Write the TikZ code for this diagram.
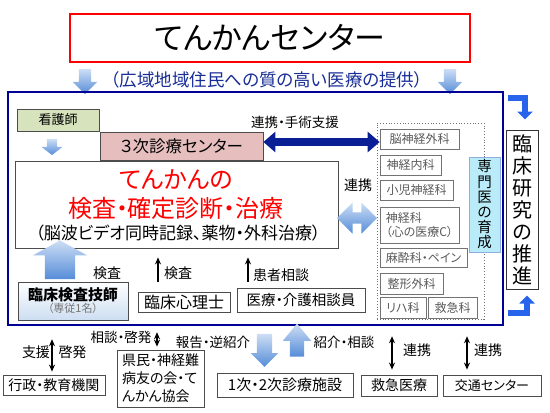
\documentclass[tikz,border=0pt]{standalone}
\usepackage{fontspec}
\setmainfont{Noto Sans CJK JP}[RawFeature=+palt]
\usetikzlibrary{positioning,shapes.arrows,arrows.meta}

\definecolor{frameblue}{RGB}{0,0,150}
\definecolor{navyarrow}{RGB}{10,30,150}
\definecolor{subblue}{RGB}{25,45,150}
\definecolor{skyA}{RGB}{205,222,245}
\definecolor{skyB}{RGB}{85,140,215}
\definecolor{nurse}{RGB}{214,227,188}
\definecolor{pinkbox}{RGB}{230,190,190}
\definecolor{cyanbox}{RGB}{185,235,248}
\definecolor{labblue}{RGB}{205,222,242}
\definecolor{bentblue}{RGB}{40,100,235}

\newcommand{\jfs}[2]{\fontsize{#1}{#2}\selectfont}

\begin{document}
\begin{tikzpicture}[x=1pt, y=-1pt,
  box/.style={draw=black!70, line width=0.8pt, inner sep=1pt, align=center},
  dept/.style={draw=black!55, line width=0.7pt, inner sep=1pt, text=black!65,
               font=\jfs{12}{14.5}, minimum height=20pt, align=left},
  label/.style={inner sep=0pt, font=\jfs{14}{16}},
  blockarrow/.style={single arrow, draw=none, top color=skyA, bottom color=skyB},
  thinup/.style={-{Stealth[length=7pt,width=6pt]}, line width=1.3pt},
  thindbl/.style={{Stealth[length=7pt,width=6pt]}-{Stealth[length=7pt,width=6pt]}, line width=1.3pt},
  darkdbl/.style={navyarrow, line width=8pt,
                  {Triangle[length=12pt,width=20pt]}-{Triangle[length=12pt,width=20pt]}},
  bent/.style={draw=bentblue, line width=6pt, -{Triangle[length=8pt,width=15pt]}}
]
\useasboundingbox (0,0) rectangle (550,413);

% title and goal
\node[draw=red, line width=2.5pt, minimum width=400pt, minimum height=48pt,
      font=\jfs{31}{31}] (title) at (270,38) {てんかんセンター};
\node[text=subblue, inner sep=0pt, font=\jfs{17.5}{18}] (goal) at (267,80) {（広域地域住民への質の高い医療の提供）};
\node[blockarrow, shape border rotate=270, inner sep=6pt, minimum height=25pt,
      single arrow head extend=6pt] (arrL) at (85,78.5) {};
\node[blockarrow, shape border rotate=270, inner sep=6pt, minimum height=25pt,
      single arrow head extend=6pt] (arrR) at (450,78.5) {};

% frame and clinical research
\node[draw=frameblue, line width=2.5pt, minimum width=495pt, minimum height=233pt,
      inner sep=0pt] (frame) at (255.5,208.5) {};
\node[box, draw=black!80, line width=1pt, minimum width=32pt, minimum height=159pt,
      font=\jfs{20}{22}] (research) at (522,209.5) {臨\\床\\研\\究\\の\\推\\進};
\draw[bent] ([xshift=4pt,yshift=-7pt]frame.north east) -| ([xshift=3pt,yshift=10pt]research.north);
\draw[bent] ([xshift=4pt,yshift=13pt]frame.south east) -| ([xshift=5pt,yshift=-6pt]research.south);

% upper part
\node[box, fill=nurse, minimum width=82pt, minimum height=22pt, font=\jfs{13}{14}] (nurse) at (58,120) {看護師};
\node[blockarrow, shape border rotate=270, inner sep=5pt, minimum height=16pt,
      single arrow head extend=5.5pt, single arrow tip angle=105] (nurseArr) at (52,145) {};
\node[box, fill=pinkbox, minimum width=163pt, minimum height=28pt, font=\jfs{16.5}{17}] (tertiary) at (181.5,146) {３次診療センター};
\node[box, minimum width=323pt, minimum height=87pt] (core) at (176.5,204.5) {};
\node[text=red, inner sep=0pt, font=\jfs{24}{24}] (coreA) at (176,179) {てんかんの};
\node[text=red, inner sep=0pt, font=\jfs{24}{24}] (coreB) at (176,208) {検査・確定診断・治療};
\node[inner sep=0pt, font=\jfs{17}{17}] (coreC) at (178,233) {（脳波ビデオ同時記録、薬物・外科治療）};

% departments
\node[draw=black!55, dotted, line width=0.8pt, minimum width=107pt, minimum height=196pt] (depts) at (430.5,221) {};
\node[dept, minimum width=79pt] (ns1) at (419.5,139) {脳神経外科};
\node[dept, minimum width=61pt] (ns2) at (410.5,165) {神経内科};
\node[dept, minimum width=73pt] (ns3) at (416.5,190) {小児神経科};
\node[dept, minimum width=79pt, minimum height=36pt] (ns4) at (419.5,225) {神経科\\（心の医療C）};
\node[dept, minimum width=87pt, minimum height=19pt] (ns5) at (423.5,258) {麻酔科・ペイン};
\node[dept, minimum width=63pt, minimum height=21pt] (ns6) at (411.5,283.5) {整形外科};
\node[dept, minimum width=46pt, minimum height=21pt] (ns7) at (403,307.5) {リハ科};
\node[dept, minimum width=49pt, minimum height=21pt] (ns8) at (452.5,307.5) {救急科};
\node[box, draw=cyan!50!blue!45, fill=cyanbox, minimum width=31pt, minimum height=95pt,
      font=\jfs{14.5}{15.2}] (trainee) at (484.5,204.5) {専\\門\\医\\の\\育\\成};

\node[label, font=\jfs{13.5}{14}] (surgLbl) at (295,122) {連携・手術支援};
\draw[darkdbl] ([yshift=4pt]tertiary.east) -- ([yshift=4pt]tertiary.east -| ns1.west);
\node[label] (linkLbl) at (358,185) {連携};
\node[double arrow, draw=none, top color=skyA, bottom color=skyB, inner sep=5.5pt,
      minimum height=40pt, double arrow head extend=10pt] (linkArr) at (357,218) {};

% staff
\node[blockarrow, shape border rotate=90, inner sep=15pt, minimum height=22pt,
      single arrow head extend=12pt, single arrow tip angle=122] (labArr) at (60,264) {};
\node[label] (labLbl) at (107,273) {検査};
\node[box, top color=white, bottom color=labblue, minimum width=110pt, minimum height=38pt] (lab) at (73,301)
  {{\jfs{15}{18}\bfseries 臨床検査技師}\\{\jfs{11}{13}\color{black!55}（専従1名）}};
\node[box, minimum width=92pt, minimum height=20pt, font=\jfs{16}{16}] (psych) at (184,302) {臨床心理士};
\node[box, minimum width=128pt, minimum height=24pt, font=\jfs{14.5}{15}] (counsel) at (301,300) {医療・介護相談員};
\draw[thinup, shorten <=10pt, shorten >=9pt] ([xshift=-26pt]psych.north) -- ([xshift=-26pt]psych.north |- core.south);
\draw[thinup, shorten <=6pt, shorten >=9pt] ([xshift=-53pt]counsel.north) -- ([xshift=-53pt]counsel.north |- core.south);
\node[label] (psychLbl) at (178,273) {検査};
\node[label] (counselLbl) at (281,275) {患者相談};

% outside partners
\node[box, minimum width=102pt, minimum height=20pt, font=\jfs{14}{14}] (admin) at (54,385) {行政・教育機関};
\draw[thindbl, shorten <=3pt, shorten >=13pt] ([xshift=-2pt]admin.north) -- ([xshift=-2pt]admin.north |- frame.south);
\node[label] (adminL) at (36,352) {支援};
\node[label] (adminR) at (72.5,352) {啓発};
\node[box, minimum width=87pt, minimum height=57pt, font=\jfs{14}{18}, align=left] (patients) at (160.5,378.5) {県民・神経難\\病友の会・て\\んかん協会};
\draw[thindbl, line width=1.6pt, shorten <=3pt, shorten >=6pt] ([xshift=-3.5pt]patients.north) -- ([xshift=-3.5pt]patients.north |- frame.south);
\node[label, font=\jfs{13.5}{14}] (patLbl) at (121,337) {相談・啓発};
\node[label, font=\jfs{13.5}{14}] (reportLbl) at (213,342) {報告・逆紹介};
\node[blockarrow, shape border rotate=270, inner sep=7.5pt, minimum height=33pt,
      single arrow head extend=6pt] (downArr) at (264.5,346.5) {};
\node[blockarrow, shape border rotate=90, inner sep=7pt, minimum height=33pt,
      single arrow head extend=7pt, single arrow tip angle=79] (upArr) at (297,344.5) {};
\node[label, font=\jfs{13.5}{14}] (referLbl) at (344,342) {紹介・相談};
\node[box, minimum width=136pt, minimum height=24pt, font=\jfs{15}{15}] (clinics) at (285,385) {1次・2次診療施設};
\node[box, minimum width=76pt, minimum height=21pt, font=\jfs{14}{14}] (emerg) at (399,385.5) {救急医療};
\draw[thindbl, shorten <=5pt, shorten >=10pt] ([xshift=-7pt]emerg.north) -- ([xshift=-7pt]emerg.north |- frame.south);
\node[label] (emergLbl) at (417,350) {連携};
\node[box, minimum width=98pt, minimum height=21pt, font=\jfs{13}{13}] (traffic) at (492,385.5) {交通センター};
\draw[thindbl, shorten <=5pt, shorten >=10pt] ([xshift=-25pt]traffic.north) -- ([xshift=-25pt]traffic.north |- frame.south);
\node[label] (trafficLbl) at (488,350) {連携};
\end{tikzpicture}
\end{document}
